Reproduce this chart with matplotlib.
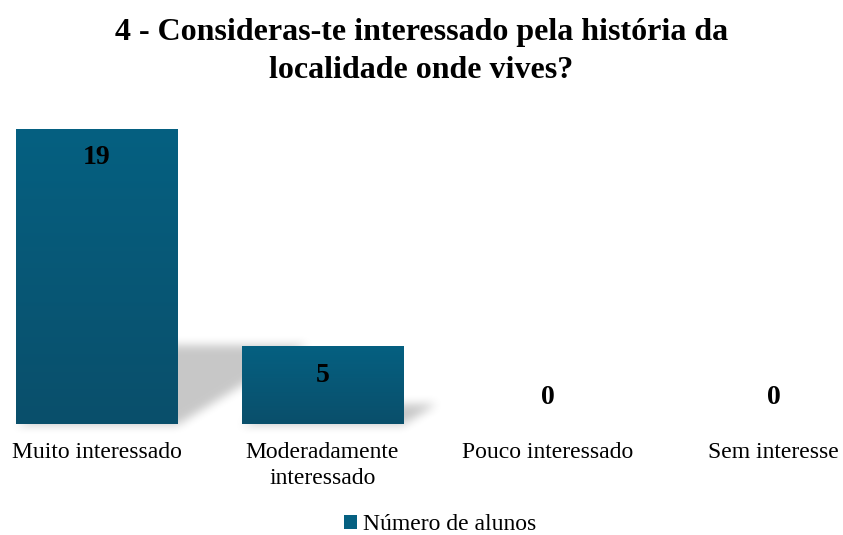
import numpy as np
import matplotlib
matplotlib.use('Agg')
import matplotlib.pyplot as plt
from matplotlib.patches import Patch
from matplotlib.colors import LinearSegmentedColormap

categorias = ['Muito interessado', 'Moderadamente\ninteressado', 'Pouco interessado', 'Sem interesse']
valores = [19, 5, 0, 0]
serie = 'Número de alunos'
titulo = '4 - Consideras-te interessado pela história da\nlocalidade onde vives?'

plt.rcParams['font.family'] = ['Liberation Serif', 'DejaVu Serif']

W, H = 843, 535
fig = plt.figure(figsize=(W/100, H/100), dpi=100)

# camada de fundo para as sombras
ax_s = fig.add_axes([0, 0, 1, 1])
ax_s.set_axis_off()

ax = fig.add_axes([0, 111/H, 1, 295/H])
ax.set_facecolor('none')
x = np.arange(len(categorias))
ax.set_xlim(-0.430, 3.308)
ax.set_ylim(0, 19)

cor_topo = '#056081'
cor_base = '#0a4f6b'
cmap = LinearSegmentedColormap.from_list('grad', [cor_base, cor_topo])

barras = ax.bar(x, valores, width=0.714, color='none', edgecolor='none', zorder=2)
grad = np.linspace(0, 1, 256).reshape(-1, 1)
for b in barras:
    if b.get_height() <= 0:
        continue
    im = ax.imshow(grad, cmap=cmap, origin='lower', aspect='auto', zorder=2,
                   extent=[b.get_x(), b.get_x() + b.get_width(), 0, b.get_height()])
    im.set_clip_path(b)

ax.set_xlim(-0.430, 3.308)
ax.set_ylim(0, 19)

# sombra em perspetiva (calculada a partir das barras)
mask = np.zeros((H, W))
rows = np.arange(H).reshape(-1, 1)
cols = np.arange(W).reshape(1, -1)
for b in barras:
    if b.get_height() <= 0:
        continue
    (xl, y0), (xr, y1) = ax.transData.transform([(b.get_x(), 0), (b.get_x() + b.get_width(), b.get_height())])
    yb = H - y0
    hp = y1 - y0
    hs = 0.27 * hp
    dx = 0.44 * hp
    t = (yb - rows) / hs
    dentro = (t >= 0) & (t <= 1) & (cols >= xl + t * dx) & (cols <= xr + t * dx)
    mask[dentro] = 1.0

def blur(a, r, axis):
    k = np.ones(2 * r + 1) / (2 * r + 1)
    return np.apply_along_axis(lambda v: np.convolve(v, k, mode='same'), axis, a)

for _ in range(2):
    mask = blur(mask, 5, 0)
    mask = blur(mask, 5, 1)

rgba = np.zeros((H, W, 4))
rgba[..., 3] = mask * 0.22
ax_s.imshow(rgba, extent=[0, W, 0, H], origin='upper', aspect='auto')
ax_s.set_xlim(0, W)
ax_s.set_ylim(0, H)

# rótulos de dados
for xi, v in zip(x, valores):
    if v > 0:
        ax.annotate(str(v), (xi, v), xytext=(0, -29), textcoords='offset pixels',
                    ha='center', va='center', fontsize=20, fontweight='bold', zorder=3)
    else:
        ax.annotate(str(v), (xi, v), xytext=(0, 26), textcoords='offset pixels',
                    ha='center', va='center', fontsize=20, fontweight='bold', zorder=3)

ax.set_xticks(x)
ax.set_xticklabels(categorias, fontsize=17, linespacing=1.3)
ax.tick_params(axis='x', length=0, pad=13)
ax.set_yticks([])
for s in ax.spines.values():
    s.set_visible(False)

fig.suptitle(titulo, y=1 - 18/H, va='top', fontsize=23, fontweight='bold', linespacing=1.4)

fig.legend(handles=[Patch(facecolor=cor_topo, label=serie)], loc='center',
           bbox_to_anchor=(440/W, 1 - 525/H), frameon=False, fontsize=17,
           handlelength=0.55, handleheight=0.55, handletextpad=0.25,
           borderpad=0.0)

fig.savefig('out.png', dpi=100)
